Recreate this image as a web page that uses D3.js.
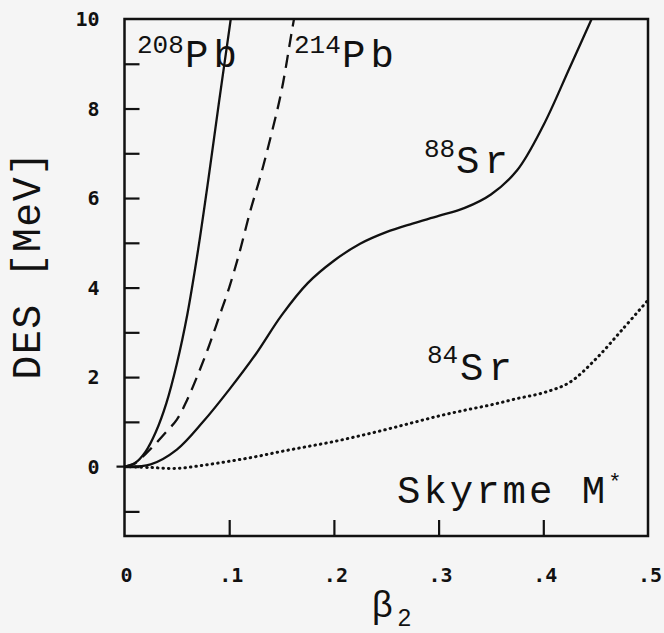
<!DOCTYPE html>
<html>
<head>
<meta charset="utf-8">
<script src="https://cdn.jsdelivr.net/npm/d3@7"></script>
<style>
  html, body { margin: 0; padding: 0; background: #f5f5f5; }
  svg { display: block; }
  .lbl { font-family: "Liberation Mono", monospace; fill: #111; }
  .tick { font-family: "DejaVu Sans Mono", monospace; font-weight: bold; font-size: 20px; fill: #111; }
</style>
</head>
<body>
<div id="chart"></div>
<script>
// deformation beta2 and energy surface DES (MeV)
var pb208Beta = [0, 0.01, 0.02, 0.03, 0.04, 0.05, 0.06, 0.07, 0.08, 0.09, 0.1, 0.105];
var pb208Des  = [0, 0.08, 0.33, 0.78, 1.42, 2.3, 3.4, 4.8, 6.4, 8.1, 9.75, 10.6];

var pb214Beta = [0, 0.01, 0.02, 0.03, 0.04, 0.05, 0.06, 0.07, 0.08, 0.09, 0.1, 0.11, 0.12, 0.13, 0.14, 0.15, 0.16, 0.165];
var pb214Des  = [0, 0.07, 0.28, 0.52, 0.78, 1.05, 1.5, 2.05, 2.65, 3.32, 4.0, 4.8, 5.7, 6.5, 7.4, 8.4, 9.75, 10.4];

var sr88Beta = [0, 0.025, 0.05, 0.075, 0.1, 0.125, 0.15, 0.175, 0.2, 0.225, 0.25, 0.275, 0.3, 0.325, 0.35, 0.375, 0.4, 0.425, 0.45];
var sr88Des  = [0, 0.05, 0.38, 1.0, 1.72, 2.5, 3.38, 4.1, 4.6, 4.98, 5.24, 5.43, 5.6, 5.78, 6.08, 6.62, 7.62, 8.9, 10.2];

var sr84Beta = [0, 0.025, 0.05, 0.075, 0.1, 0.125, 0.15, 0.175, 0.2, 0.225, 0.25, 0.275, 0.3, 0.325, 0.35, 0.375, 0.4, 0.425, 0.45, 0.475, 0.5];
var sr84Des  = [0, -0.02, -0.04, 0.03, 0.12, 0.22, 0.34, 0.45, 0.56, 0.69, 0.83, 0.98, 1.13, 1.26, 1.38, 1.52, 1.65, 1.88, 2.4, 3.05, 3.72];

var xTicks = [0, 0.1, 0.2, 0.3, 0.4, 0.5];
var xTickLabels = ["0", ".1", ".2", ".3", ".4", ".5"];
var yTicks = [0, 2, 4, 6, 8, 10];
var yMinorTicks = [-1, 0, 1, 2, 3, 4, 5, 6, 7, 8, 9];

var W = 664, H = 633;
var margin = {top: 19, right: 16, bottom: 97, left: 124.5};
var w = W - margin.left - margin.right;
var h = H - margin.top - margin.bottom;

var svg = d3.select('#chart')
  .append('svg')
  .attr('width', W)
  .attr('height', H);

var g = svg.append('g')
  .attr('transform', 'translate(' + margin.left + ',' + margin.top + ')');

var x = d3.scaleLinear().domain([0, 0.5]).range([0, w]);
var y = d3.scaleLinear().domain([-1.55, 10]).range([h, 0]);

g.append('clipPath').attr('id', 'clip')
  .append('rect').attr('width', w).attr('height', h);

// frame
g.append('rect')
  .attr('width', w).attr('height', h)
  .attr('fill', 'none').attr('stroke', '#111').attr('stroke-width', 2.5);

// inward ticks on the left
g.append('g')
  .call(d3.axisRight(y).tickValues(yMinorTicks).tickSize(15).tickFormat(''))
  .call(function(a) { a.select('.domain').remove(); })
  .selectAll('line').attr('stroke', '#111').attr('stroke-width', 2.2);

// small outward stub at zero
g.append('line')
  .attr('x1', -8).attr('x2', 0)
  .attr('y1', y(0)).attr('y2', y(0))
  .attr('stroke', '#111').attr('stroke-width', 2.2);

g.append('g')
  .attr('class', 'tick')
  .selectAll('text')
  .data(yTicks)
  .enter().append('text')
    .attr('x', -25)
    .attr('y', function(d) { return y(d); })
    .attr('dy', '0.36em')
    .attr('text-anchor', 'end')
    .text(function(d) { return d; });

// inward ticks on the bottom
g.append('g')
  .attr('transform', 'translate(0,' + h + ')')
  .call(d3.axisTop(x).tickValues([0.1, 0.2, 0.3, 0.4]).tickSize(16).tickFormat(''))
  .call(function(a) { a.select('.domain').remove(); })
  .selectAll('line').attr('stroke', '#111').attr('stroke-width', 2.2);

g.append('g')
  .attr('class', 'tick')
  .selectAll('text')
  .data(xTicks)
  .enter().append('text')
    .attr('x', function(d) { return x(d) + 2; })
    .attr('y', h + 39)
    .attr('dy', '0.36em')
    .attr('text-anchor', 'middle')
    .text(function(d, i) { return xTickLabels[i]; });

// curves
var line = d3.line()
  .x(function(d) { return x(d[0]); })
  .y(function(d) { return y(d[1]); })
  .curve(d3.curveCatmullRom.alpha(0.5));

var series = [
  {b: pb208Beta, e: pb208Des, dash: null, cap: 'butt'},
  {b: pb214Beta, e: pb214Des, dash: '13 8', cap: 'butt'},
  {b: sr88Beta, e: sr88Des, dash: null, cap: 'butt'},
  {b: sr84Beta, e: sr84Des, dash: '0.5 5', cap: 'round'}
];

var curves = g.append('g').attr('clip-path', 'url(#clip)');
series.forEach(function(s) {
  curves.append('path')
    .datum(s.b.map(function(b, i) { return [b, s.e[i]]; }))
    .attr('d', line)
    .attr('fill', 'none')
    .attr('stroke', '#111')
    .attr('stroke-width', s.cap === 'round' ? 3 : 2.3)
    .attr('stroke-linecap', s.cap)
    .attr('stroke-dasharray', s.dash);
});

// nucleus labels
function nucleus(sup, name, sx, sy, nx, ny) {
  svg.append('text').attr('class', 'lbl')
    .attr('x', sx).attr('y', sy)
    .style('font-size', '26px')
    .text(sup);
  svg.append('text').attr('class', 'lbl')
    .attr('x', nx).attr('y', ny)
    .style('font-size', '39px')
    .style('letter-spacing', '5px')
    .text(name);
}
nucleus('208', 'Pb', 137, 53, 185, 67);
nucleus('214', 'Pb', 294, 53, 342, 67);
nucleus('88', 'Sr', 424, 157, 456, 173);
nucleus('84', 'Sr', 427, 363, 460, 380);

var sk = svg.append('text').attr('class', 'lbl')
  .attr('x', 397).attr('y', 503)
  .style('font-size', '39px')
  .style('letter-spacing', '3px');
sk.append('tspan').text('Skyrme M');
sk.append('tspan').attr('dy', -14).style('font-size', '22px').text('*');

// axis titles
svg.append('text').attr('class', 'lbl')
  .attr('transform', 'translate(40,265) rotate(-90)')
  .attr('text-anchor', 'middle')
  .style('font-size', '40px')
  .style('letter-spacing', '1.5px')
  .text('DES [MeV]');

var bt = svg.append('text')
  .attr('x', 372).attr('y', 617)
  .style('font-family', '"Liberation Sans", sans-serif')
  .style('fill', '#111')
  .style('font-size', '36px');
bt.append('tspan').text('β');
bt.append('tspan').attr('dx', 5).attr('dy', 9).style('font-size', '24px').text('2');
</script>
</body>
</html>
